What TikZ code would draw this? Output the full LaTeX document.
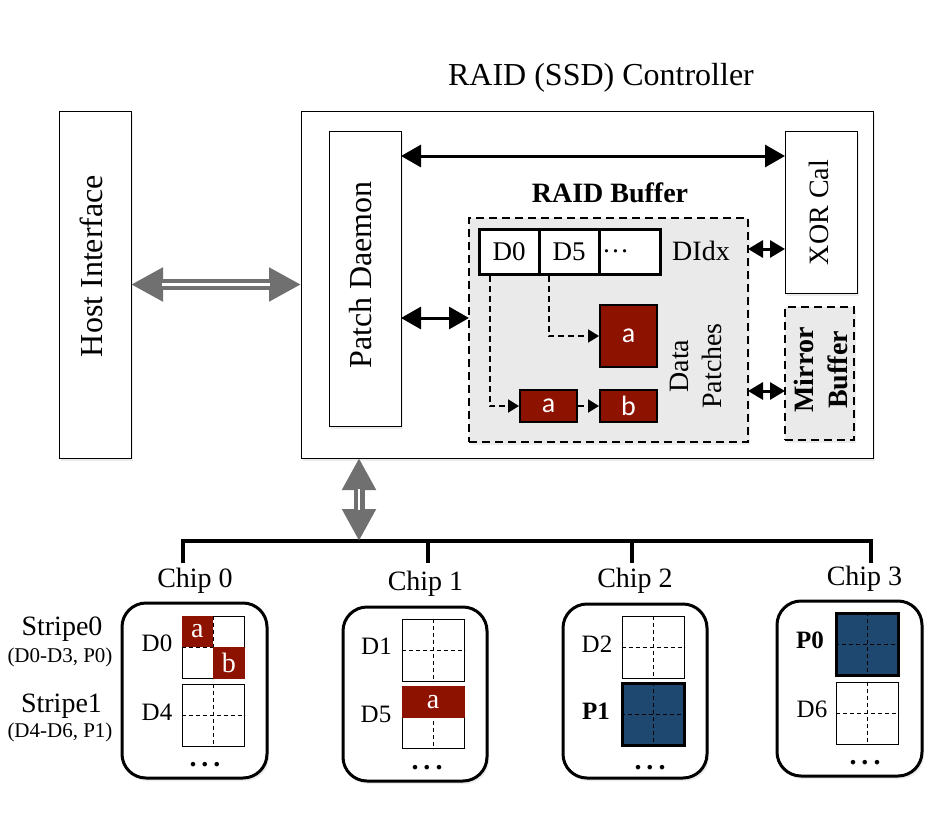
\documentclass[tikz,border=0pt]{standalone}
\usepackage{fontspec}
\setmainfont{Liberation Serif}
\newfontfamily\sansf{Carlito}
\usetikzlibrary{arrows.meta,calc,shadows}
\definecolor{pred}{RGB}{142,18,0}
\definecolor{pblue}{RGB}{31,72,112}
\definecolor{agray}{RGB}{112,112,112}
\definecolor{bgray}{RGB}{234,234,234}
\tikzset{
 shad/.style={drop shadow={opacity=0.15, shadow xshift=2pt, shadow yshift=-3pt}},
 box/.style={draw=black, line width=0.9pt, fill=white, inner sep=0pt, outer sep=0pt, shad},
 dbox/.style={draw=black, dash pattern=on 8pt off 5pt, line width=2.4pt, fill=bgray, inner sep=0pt, outer sep=0pt, shad},
 lbl/.style={font=\fontsize{28}{32}\selectfont, inner sep=0pt},
 slbl/.style={font=\fontsize{25}{28}\selectfont, inner sep=0pt},
 tlbl/.style={font=\fontsize{21}{24}\selectfont, inner sep=0pt},
 biglbl/.style={font=\fontsize{32}{36}\selectfont, inner sep=0pt},
 arr/.style={line width=3pt, {Triangle[length=20pt,width=22pt]}-{Triangle[length=20pt,width=22pt]}},
 sarr/.style={line width=3pt, {Triangle[length=15pt,width=17pt]}-{Triangle[length=15pt,width=17pt]}},
 darr/.style={line width=2pt, dash pattern=on 6pt off 4pt, -{Triangle[length=11pt,width=13pt]}},
 garr/.style={draw=agray, line width=11pt, {Triangle[length=32pt,width=32pt]}-{Triangle[length=32pt,width=32pt]}},
 gin/.style={draw=white, line width=2.5pt, shorten <=31pt, shorten >=31pt},
 idx/.style={draw=black, line width=3pt, fill=white, minimum height=45pt, inner sep=0pt, font=\fontsize{27}{30}\selectfont},
 patch/.style={draw=black, line width=2pt, fill=pred, inner sep=0pt, text=white, font=\sansf\fontsize{28}{30}\selectfont},
 chip/.style={draw=black, line width=3pt, rounded corners=24pt, fill=white, minimum width=145pt, minimum height=175pt, inner sep=0pt, shad},
 cell/.style={draw=black, line width=1pt, fill=white, minimum size=62pt, inner sep=0pt},
 pcell/.style={draw=black, line width=3pt, fill=pblue, minimum size=62pt, inner sep=0pt},
 gridl/.style={line width=1pt, dash pattern=on 4pt off 3pt},
 bus/.style={line width=4pt},
 dots/.style={font=\bfseries\fontsize{28}{30}\selectfont, inner sep=0pt, anchor=base},
}
\begin{document}
\begin{tikzpicture}[x=1pt,y=-1pt]
\useasboundingbox (0,0) rectangle (928,836);

% main boxes
\node[box, minimum width=72pt, minimum height=347pt] (host) at (95,284.5) {};
\node[biglbl, rotate=90] (hostt) at (91,266) {Host Interface};
\node[box, minimum width=572pt, minimum height=347pt] (ctrl) at (587,284.5) {};
\node[biglbl, anchor=base] (ctrlt) at (601,85) {RAID (SSD) Controller};
\node[box, minimum width=72pt, minimum height=295pt] (pd) at (365,278.5) {};
\node[biglbl, rotate=90] (pdt) at (361,275) {Patch Daemon};
\node[box, minimum width=72pt, minimum height=162pt] (xor) at (821,212) {};
\node[lbl, rotate=90] (xort) at (818.5,212.5) {XOR Cal};
\node[dbox, minimum width=69pt, minimum height=133pt] (mirror) at (819.5,373.5) {};
\node[lbl, rotate=90, align=center, font=\bfseries\fontsize{28}{33.5}\selectfont] (mirrort) at (821,370) {Mirror\\Buffer};
\node[dbox, minimum width=279pt, minimum height=224pt] (rbuf) at (608.5,330) {};
\node[lbl, anchor=base, font=\bfseries\fontsize{28}{32}\selectfont] (rbuft) at (610,202) {RAID Buffer};

% DIdx table
\node[idx, minimum width=60pt] (d0) at (509,251.5) {D0};
\node[idx, minimum width=60pt] (d5) at (569,251.5) {D5};
\node[idx, minimum width=61pt, text width=55pt, align=left] (d6) at (629.5,251.5) {\dots};
\node[lbl, anchor=base] (didx) at (701,260) {DIdx};

% patches
\node[patch, minimum width=57pt, minimum height=62pt] (ba) at (628.5,336) {a};
\node[patch, minimum width=57pt, minimum height=32pt] (sa) at (548.5,406) {a};
\node[patch, minimum width=57pt, minimum height=32pt] (sb) at (628.5,406) {b};
\node[lbl, rotate=90, align=center, font=\fontsize{28}{32.5}\selectfont] (dpt) at (696,366) {Data\\Patches};

\draw[darr] ([xshift=12pt]d0.south west) |- (sa.west);
\draw[darr] ([xshift=11pt]d5.south west) |- (ba.west);
\draw[darr] (sa.east) -- (sb.west);

% arrows in controller
\coordinate (ya) at (0,156);
\coordinate (yb) at (0,318);
\coordinate (yc) at (0,249);
\coordinate (yd) at (0,391);
\draw[arr] (pd.east |- ya) -- (xor.west |- ya);
\draw[arr] (pd.east |- yb) -- (rbuf.west |- yb);
\draw[sarr] (rbuf.east |- yc) -- (xor.west |- yc);
\draw[sarr] (rbuf.east |- yd) -- (mirror.west |- yd);

% host <-> controller
\draw[garr] (host.east) -- (ctrl.west);
\draw[gin] (host.east) -- (ctrl.west);

% bus
\coordinate (vb) at (359,541);
\coordinate (b0) at (183,541);
\coordinate (b1) at (428,541);
\coordinate (b2) at (632,541);
\coordinate (b3) at (871,541);
\coordinate (t0) at (183,563);
\coordinate (t1) at (428,563);
\coordinate (t2) at (632,563);
\coordinate (t3) at (871,563);
\draw[bus] (t0) -- (b0) -- (b3) -- (t3);
\draw[bus] (b1) -- (t1);
\draw[bus] (b2) -- (t2);
\draw[garr] (ctrl.south -| vb) -- (vb);
\draw[gin] (ctrl.south -| vb) -- (vb);

% chip labels
\node[lbl, anchor=base] (ch0) at (195,587) {Chip 0};
\node[lbl, anchor=base] (ch1) at (425.5,590) {Chip 1};
\node[lbl, anchor=base] (ch2) at (635,587) {Chip 2};
\node[lbl, anchor=base] (ch3) at (864.5,585) {Chip 3};

% stripe labels
\node[lbl, anchor=base] (s0) at (62,635) {Stripe0};
\node[tlbl, anchor=base] (s0s) at (60,662) {(D0-D3, P0)};
\node[lbl, anchor=base] (s1) at (61.5,712) {Stripe1};
\node[tlbl, anchor=base] (s1s) at (60,737) {(D4-D6, P1)};

% chips
\node[chip] (chip0) at (194.5,690.5) {};
\node[chip, minimum width=144pt, minimum height=174pt] (chip1) at (415,694) {};
\node[chip, minimum width=144pt, minimum height=174pt] (chip2) at (635,691) {};
\node[chip] (chip3) at (849.5,688.5) {};

% cells
\node[cell] (c0a) at (213,647) {};
\node[cell] (c0b) at (213,715) {};
\node[cell] (c1a) at (433,650) {};
\node[cell] (c1b) at (433,717.5) {};
\node[cell] (c2a) at (653,647.5) {};
\node[pcell] (c2b) at (653,714.5) {};
\node[pcell] (c3a) at (867.5,644.5) {};
\node[cell] (c3b) at (867.5,713) {};
\foreach \c in {c0a,c0b,c1a,c1b,c2a,c2b,c3a,c3b}{
  \draw[gridl] (\c.north) -- (\c.south) (\c.west) -- (\c.east);
}
% red fills in chips
\fill[pred] (c0a.north west) rectangle (c0a.center);
\fill[pred] (c0a.center) rectangle (c0a.south east);
\node[lbl, text=white] (qa) at ($(c0a.north west)!0.5!(c0a.center)$) {a};
\node[lbl, text=white] (qb) at ($(c0a.center)!0.5!(c0a.south east)$) {b};
\fill[pred] (c1b.north west) rectangle (c1b.east);
\node[lbl, text=white] (qa5) at ($(c1b.north)!0.5!(c1b.center)$) {a};

% cell labels
\node[slbl, anchor=base] (l0) at (157,651) {D0};
\node[slbl, anchor=base] (l4) at (157,720) {D4};
\node[slbl, anchor=base] (l1) at (376.5,654) {D1};
\node[slbl, anchor=base] (l5) at (376,722) {D5};
\node[slbl, anchor=base] (l2) at (597,652) {D2};
\node[slbl, anchor=base, font=\bfseries\fontsize{25}{28}\selectfont] (lp1) at (596,719) {P1};
\node[slbl, anchor=base, font=\bfseries\fontsize{25}{28}\selectfont] (lp0) at (810,648) {P0};
\node[slbl, anchor=base] (l6) at (812,717) {D6};

% dots
\node[dots] (e0) at (205,766) {.\kern5pt.\kern5pt.};
\node[dots] (e1) at (427,769) {.\kern5pt.\kern5pt.};
\node[dots] (e2) at (650,769) {.\kern5pt.\kern5pt.};
\node[dots] (e3) at (865,764) {.\kern5pt.\kern5pt.};
\end{tikzpicture}
\end{document}
